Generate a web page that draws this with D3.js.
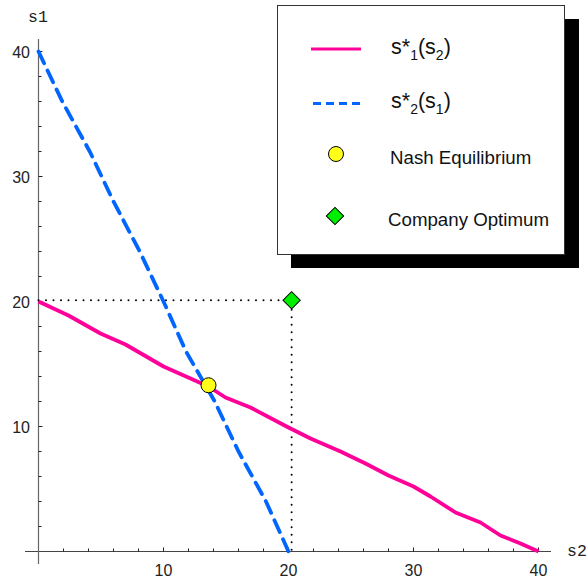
<!DOCTYPE html>
<html><head><meta charset="utf-8">
<script src="https://cdn.jsdelivr.net/npm/d3@7"></script>
<style>body{margin:0;background:#fff;} svg{display:block;}</style>
</head><body>
<svg id="c" width="588" height="581"></svg>
<script>
// data
const s1Best_s2 = [0,2.4,4.96,6.96,10,12.16,13.6,14.96,16.96,20,21.76,24.16,26.16,28,30,31.36,33.36,35.36,36.96,38.56,40];
const s1Best_s1 = [20,18.88,17.44,16.56,14.8,13.84,13.2,12.32,11.52,9.92,9.04,8,7.04,6.08,5.2,4.4,3.12,2.32,1.28,0.64,0];
const s2Best_s1 = [40,36,32,28,24,20,16,12,8,4,0];
const s2Best_s2 = [0,1.9,4.1,6.0,8.1,10.0,11.8,14.1,16.0,18.2,20];
const nash = [13.6, 13.3];
const optimum = [20.25, 20.1];
const majorTicks = [10,20,30,40];
const minorTicks = d3.range(2,41,2);
const legendLabels = ["Nash Equilibrium","Company Optimum"];

const svg = d3.select("#c");
const x = d3.scaleLinear().domain([0,40]).range([38.5,538.5]);
const y = d3.scaleLinear().domain([0,40]).range([551.5,51.5]);
const SANS = "Liberation Sans, Arial, sans-serif";

// axes
const axG = svg.append("g");
axG.append("line").attr("x1",25).attr("x2",551).attr("y1",y(0)).attr("y2",y(0)).attr("stroke","#444").attr("stroke-width",1.2);
axG.append("line").attr("x1",x(0)).attr("x2",x(0)).attr("y1",39).attr("y2",564).attr("stroke","#666").attr("stroke-width",1.2);
minorTicks.forEach(t=>{
  const len = majorTicks.includes(t)?4:3;
  axG.append("line").attr("x1",x(t)).attr("x2",x(t)).attr("y1",y(0)).attr("y2",y(0)-len).attr("stroke","#222");
  axG.append("line").attr("y1",y(t)).attr("y2",y(t)).attr("x1",x(0)).attr("x2",x(0)+len).attr("stroke","#222");
});
majorTicks.forEach(t=>{
  axG.append("text").attr("x",x(t)).attr("y",576).attr("text-anchor","middle")
    .attr("font-family",SANS).attr("font-size",16).attr("fill","#222").text(t);
  axG.append("text").attr("x",30).attr("y",y(t)+6).attr("text-anchor","end")
    .attr("font-family",SANS).attr("font-size",16).attr("fill","#222").text(t);
});
axG.append("text").attr("x",28).attr("y",22).attr("font-family","Liberation Mono, Courier New, monospace").attr("font-size",16.5).attr("fill","#222").text("s1");
axG.append("text").attr("x",567).attr("y",556).attr("font-family","Liberation Mono, Courier New, monospace").attr("font-size",16.5).attr("fill","#222").text("s2");

// dotted guides
svg.append("path").attr("d",d3.line()([[x(0),y(optimum[1])],[x(optimum[0]),y(optimum[1])],[x(optimum[0]),y(0)]]))
  .attr("fill","none").attr("stroke","#000").attr("stroke-width",2).attr("stroke-dasharray","0 7.5").attr("stroke-linecap","round");

const line = d3.line().x(d=>x(d[0])).y(d=>y(d[1]));
svg.append("path").datum(s1Best_s2.map((v,i)=>[v,s1Best_s1[i]])).attr("d",line)
  .attr("fill","none").attr("stroke","#ff0099").attr("stroke-width",3.8).attr("stroke-linejoin","round");
svg.append("path").datum(s2Best_s2.map((v,i)=>[v,s2Best_s1[i]])).attr("d",line)
  .attr("fill","none").attr("stroke","#0066ff").attr("stroke-width",3.8).attr("stroke-dasharray","13 8").attr("stroke-linecap","round");

svg.append("circle").attr("cx",x(nash[0])).attr("cy",y(nash[1])).attr("r",7.5).attr("fill","#ffff1a").attr("stroke","#000").attr("stroke-width",1);
const dia = d3.symbol().type(d3.symbolSquare).size(150);
svg.append("path").attr("d",dia()).attr("transform",`translate(${x(optimum[0])},${y(optimum[1])}) rotate(45)`).attr("fill","#00ee00").attr("stroke","#000").attr("stroke-width",1);

// legend
const lg = svg.append("g");
lg.append("rect").attr("x",291).attr("y",19).attr("width",288).attr("height",249).attr("fill","#000");
lg.append("rect").attr("x",277.5).attr("y",5.5).attr("width",287).attr("height",249).attr("fill","#fff").attr("stroke","#333").attr("stroke-width",1);
lg.append("line").attr("x1",311).attr("x2",361).attr("y1",49).attr("y2",49).attr("stroke","#ff0099").attr("stroke-width",3);
lg.append("line").attr("x1",313).attr("x2",361).attr("y1",103.5).attr("y2",103.5).attr("stroke","#0066ff").attr("stroke-width",3).attr("stroke-dasharray","8 5");
function subLabel(yPos, a, b){
  const t = lg.append("text").attr("x",391).attr("y",yPos).attr("font-family",SANS).attr("font-size",21.5).attr("fill","#111");
  t.append("tspan").text("s*");
  t.append("tspan").attr("font-size",14).attr("dy",6).text(a);
  t.append("tspan").attr("dy",-6).text("(s");
  t.append("tspan").attr("font-size",14).attr("dy",6).text(b);
  t.append("tspan").attr("dy",-6).text(")");
}
subLabel(54,"1","2");
subLabel(108,"2","1");
lg.append("circle").attr("cx",336).attr("cy",154).attr("r",7.5).attr("fill","#ffff1a").attr("stroke","#000").attr("stroke-width",1);
lg.append("path").attr("d",dia()).attr("transform","translate(335,216) rotate(45)").attr("fill","#00ee00").attr("stroke","#000").attr("stroke-width",1);
lg.append("text").attr("x",390).attr("y",164).attr("font-family",SANS).attr("font-size",18.7).attr("fill","#111").text(legendLabels[0]);
lg.append("text").attr("x",388).attr("y",226).attr("font-family",SANS).attr("font-size",18.7).attr("fill","#111").text(legendLabels[1]);
</script>
</body></html>
